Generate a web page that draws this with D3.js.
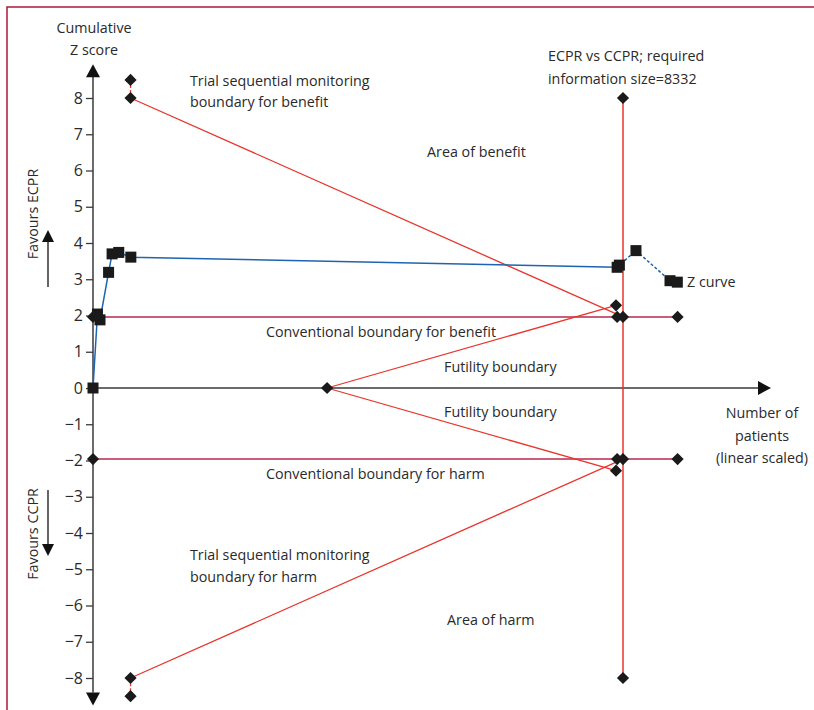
<!DOCTYPE html>
<html>
<head>
<meta charset="utf-8">
<style>
  html, body { margin: 0; padding: 0; overflow: hidden; background: #fff; }
  svg { display: block; }
  text { font-family: "Open Sans", sans-serif; font-size: 14.3px; fill: #2a2a2a; }
</style>
</head>
<body>
<script src="https://cdn.jsdelivr.net/npm/d3@7"></script>
<script>
// cumulative Z curve (n patients, z)
var zSolidN = [0, 70, 110, 245, 300, 405, 595, 8240];
var zSolidZ = [0, 2.04, 1.88, 3.19, 3.70, 3.74, 3.61, 3.33];
var zDashN = [8240, 8275, 8536, 9071, 9186];
var zDashZ = [3.33, 3.39, 3.79, 2.96, 2.92];

// boundaries
var ris = 8332;
var tsmBenefitN = [590, 590, 8332];
var tsmBenefitZ = [8.5, 8, 1.96];
var tsmHarmN = [590, 590, 8332];
var tsmHarmZ = [-8.5, -8, -1.96];
var futilityN = [3680, 8222];
var futilityUpZ = [0, 2.28];
var futilityDownZ = [0, -2.28];
var convN = [0, 8240, 8332, 9190];
var convZ = 1.96;

var yTicks = [8, 7, 6, 5, 4, 3, 2, 1, 0, -1, -2, -3, -4, -5, -6, -7, -8];

var W = 814, H = 710;
var svg = d3.select("body").append("svg")
  .attr("width", W).attr("height", H);

var x = d3.scaleLinear().domain([0, ris]).range([93, 623]);
var y = d3.scaleLinear().domain([-8, 8]).range([678, 98]);

var axisCol = "#3a3a3a", red = "#e8352c", crimson = "#b8284c", blue = "#1e64b0";

svg.append("rect").attr("width", W).attr("height", H).attr("fill", "#fff");

// frame (open on right and bottom)
svg.append("path").attr("d", "M7," + (H + 2) + "V7H" + (W + 2))
  .attr("fill", "none").attr("stroke", "#b0183d").attr("stroke-width", 1.5);

// y axis
var yAxis = d3.axisLeft(y).tickValues(yTicks).tickSize(7).tickPadding(3)
  .tickFormat(function(d) { return d < 0 ? "\u2212" + (-d) : d; });
var ga = svg.append("g").attr("transform", "translate(" + x(0) + ",0)").call(yAxis);
ga.select(".domain").remove();
ga.selectAll("line").attr("stroke", axisCol).attr("stroke-width", 1.3);
ga.selectAll("text").style("font-size", "16px").attr("fill", "#2a2a2a").style("font-family", "Open Sans");
svg.append("line").attr("x1", x(0)).attr("x2", x(0))
  .attr("y1", y(8.6)).attr("y2", y(-8.4))
  .attr("stroke", axisCol).attr("stroke-width", 1.5);
svg.append("path")
  .attr("d", "M" + x(0) + "," + (y(8.6) - 12) + "l-7,13h14z")
  .attr("fill", "#111");
svg.append("path")
  .attr("d", "M" + x(0) + "," + (y(-8.4) + 13) + "l-7,-13h14z")
  .attr("fill", "#111");

// x axis
svg.append("line").attr("x1", x(0)).attr("x2", 758)
  .attr("y1", y(0)).attr("y2", y(0))
  .attr("stroke", axisCol).attr("stroke-width", 1.5);
svg.append("path").attr("d", "M771," + y(0) + "l-13,-7v14z").attr("fill", "#111");

var line = d3.line().x(function(d) { return x(d[0]); }).y(function(d) { return y(d[1]); });
function pts(ns, zs) { return ns.map(function(n, i) { return [n, Array.isArray(zs) ? zs[i] : zs]; }); }

function diamonds(data) {
  svg.append("g").selectAll("path").data(data).enter().append("path")
    .attr("d", d3.symbol().type(d3.symbolDiamond2).size(95))
    .attr("transform", function(d) { return "translate(" + x(d[0]) + "," + y(d[1]) + ")"; })
    .attr("fill", "#1a1a1a");
}

// conventional boundaries
[convZ, -convZ].forEach(function(z) {
  svg.append("path").datum(pts(convN, z)).attr("d", line)
    .attr("fill", "none").attr("stroke", crimson).attr("stroke-width", 1.5);
});

// futility
[futilityUpZ, futilityDownZ].forEach(function(zs) {
  svg.append("path").datum(pts(futilityN, zs)).attr("d", line)
    .attr("fill", "none").attr("stroke", red).attr("stroke-width", 1.3);
});

// trial sequential monitoring boundaries
[[tsmBenefitN, tsmBenefitZ], [tsmHarmN, tsmHarmZ]].forEach(function(b) {
  var p = pts(b[0], b[1]);
  svg.append("path").datum(p.slice(0, 2)).attr("d", line)
    .attr("fill", "none").attr("stroke", red).attr("stroke-width", 1.3)
    .attr("stroke-dasharray", "3,2");
  svg.append("path").datum(p.slice(1)).attr("d", line)
    .attr("fill", "none").attr("stroke", red).attr("stroke-width", 1.3);
});

// required information size
svg.append("path").datum([[ris, 8], [ris, -8]]).attr("d", line)
  .attr("stroke", red).attr("stroke-width", 1.5).attr("fill", "none");

// z curve
svg.append("path").datum(pts(zSolidN, zSolidZ)).attr("d", line)
  .attr("fill", "none").attr("stroke", blue).attr("stroke-width", 1.5);
svg.append("path").datum(pts(zDashN, zDashZ)).attr("d", line)
  .attr("fill", "none").attr("stroke", blue).attr("stroke-width", 1.5)
  .attr("stroke-dasharray", "3,2");

diamonds(pts(convN, convZ).concat(pts(convN, -convZ)));
diamonds([[futilityN[0], 0], [futilityN[1], futilityUpZ[1]], [futilityN[1], futilityDownZ[1]]]);
diamonds(pts(tsmBenefitN.slice(0, 2), tsmBenefitZ.slice(0, 2)).concat(pts(tsmHarmN.slice(0, 2), tsmHarmZ.slice(0, 2))));
diamonds([[ris, 8], [ris, -8]]);

var zAll = pts(zSolidN, zSolidZ).concat(pts(zDashN.slice(1), zDashZ.slice(1)));
svg.append("g").selectAll("rect").data(zAll).enter().append("rect")
  .attr("x", function(d) { return x(d[0]) - 5.5; })
  .attr("y", function(d) { return y(d[1]) - 5.5; })
  .attr("width", 11).attr("height", 11).attr("fill", "#1a1a1a");

// labels
function label(t, lx, ly, anchor) {
  svg.append("text").attr("x", lx).attr("y", ly)
    .attr("text-anchor", anchor || "start").text(t);
}
label("Cumulative", 94, 33, "middle");
label("Z score", 94, 55, "middle");
label("Trial sequential monitoring", 190, 86);
label("boundary for benefit", 190, 107);
label("Area of benefit", 427, 157);
label("ECPR vs CCPR; required", 548, 61);
label("information size=8332", 548, 84);
label("Z curve", 687, 287);
label("Conventional boundary for benefit", 266, 337);
label("Futility boundary", 444, 372);
label("Futility boundary", 444, 417);
label("Number of", 762, 418, "middle");
label("patients", 762, 441, "middle");
label("(linear scaled)", 762, 463, "middle");
label("Conventional boundary for harm", 266, 479);
label("Trial sequential monitoring", 190, 560);
label("boundary for harm", 190, 582);
label("Area of harm", 447, 625);

svg.append("text").attr("transform", "translate(38,214) rotate(-90)")
  .attr("text-anchor", "middle").text("Favours ECPR");
svg.append("text").attr("transform", "translate(38,534) rotate(-90)")
  .attr("text-anchor", "middle").text("Favours CCPR");

// direction arrows
svg.append("line").attr("x1", 48).attr("x2", 48).attr("y1", 240).attr("y2", 287)
  .attr("stroke", "#111").attr("stroke-width", 1.3);
svg.append("path").attr("d", "M48,230l-6,12h12z").attr("fill", "#111");
svg.append("line").attr("x1", 48).attr("x2", 48).attr("y1", 490).attr("y2", 545)
  .attr("stroke", "#111").attr("stroke-width", 1.3);
svg.append("path").attr("d", "M48,556l-6,-12h12z").attr("fill", "#111");
</script>
</body>
</html>
